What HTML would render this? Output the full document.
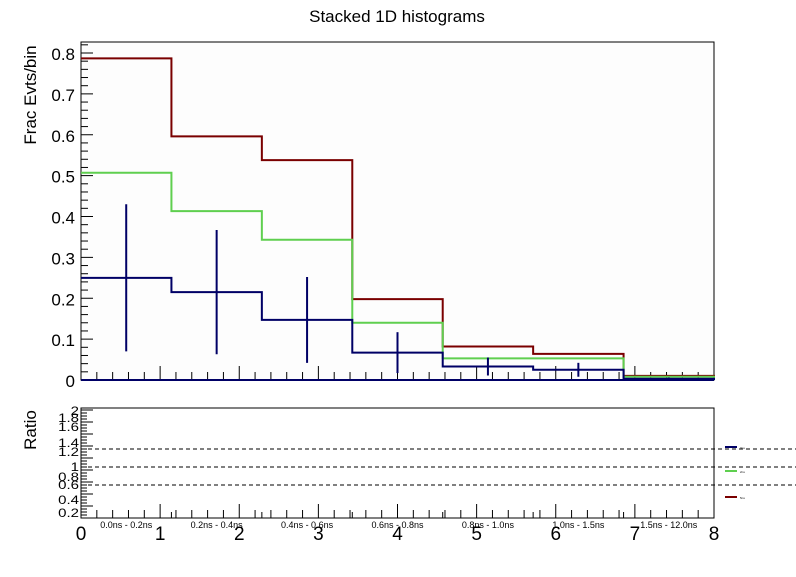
<!DOCTYPE html>
<html><head><meta charset="utf-8"><style>
body{margin:0;background:#fff;}
svg text{font-family:"Liberation Sans",sans-serif;}
</style></head><body>
<svg id="c" width="796" height="572" viewBox="0 0 796 572" xmlns="http://www.w3.org/2000/svg">
<rect width="796" height="572" fill="#fff"/>
<text x="397" y="22" font-size="17" text-anchor="middle">Stacked 1D histograms</text>
<text transform="translate(36,95) rotate(-90)" font-size="17" text-anchor="middle">Frac Evts/bin</text>
<text transform="translate(36,430) rotate(-90)" font-size="17" text-anchor="middle">Ratio</text>
<rect x="81" y="42" width="633" height="338" fill="#fdfdfd" stroke="#000" stroke-width="1"/>
<rect x="81" y="408" width="633" height="110" fill="none" stroke="#000" stroke-width="1"/>
<g id="g"></g>
</svg>
<script>
const binLabels=["0.0ns - 0.2ns","0.2ns - 0.4ns","0.4ns - 0.6ns","0.6ns - 0.8ns","0.8ns - 1.0ns","1.0ns - 1.5ns","1.5ns - 12.0ns"];
const redVals=[0.787,0.596,0.538,0.198,0.082,0.064,0.010];
const greenVals=[0.507,0.413,0.343,0.140,0.053,0.053,0.008];
const blueVals=[0.250,0.215,0.147,0.067,0.033,0.025,0.003];
const blueErr=[0.180,0.152,0.105,0.050,0.022,0.017,0.003];
const yTicks=[0,0.1,0.2,0.3,0.4,0.5,0.6,0.7,0.8];
const xTicks=[0,1,2,3,4,5,6,7,8];
const legendNames=["0ns","2ns","5ns"];

const NS="http://www.w3.org/2000/svg";
const g=document.getElementById('g');
const X0=81,X1=714,Y0=380,YTOP=53;
const xs=v=>X0+(X1-X0)*v/8;
const xb=i=>X0+(X1-X0)*i/binLabels.length;
const ys=v=>Y0-(Y0-YTOP)*v/0.8;
function mk(t,a){const e=document.createElementNS(NS,t);for(const k in a)e.setAttribute(k,a[k]);g.appendChild(e);return e;}
function line(x1,y1,x2,y2,c,w,name){const e=mk('line',{x1,y1,x2,y2,stroke:c,'stroke-width':w||1});

return e;}
function txt(x,y,s,fs,anchor,name){const e=mk('text',{x,y,'font-size':fs,'text-anchor':anchor||'middle'});e.textContent=s;

return e;}

yTicks.forEach(v=>{line(X0,ys(v),X0+12,ys(v),'#000',1,'y-major-tick');txt(X0-6,ys(v)+7,String(v),17,'end','y-tick-label');});
for(let i=0;i<=41;i++){const v=i*0.02;const y=ys(v);if(y<42)break;if(i%5)line(X0,y,X0+7,y,'#000',1,'y-minor-tick');}
xTicks.forEach(v=>{line(xs(v),Y0,xs(v),Y0-14,'#000',1,'x-major-tick');line(xs(v),518,xs(v),504,'#000',1,'ratio-x-major-tick');
txt(xs(v),540,String(v),19,'middle','x-tick-label');});
for(let i=0;i<40;i++){if(i%5){const x=xs(i/5);line(x,Y0,x,Y0-8,'#000',1,'x-minor-tick');line(x,518,x,510,'#000',1,'ratio-x-minor-tick');}}
for(let i=1;i<binLabels.length;i++)line(xb(i),518,xb(i),512,'#000',1,'ratio-bin-tick');

function hist(vals,color,name){let d='M'+X0+','+ys(vals[0]);vals.forEach((v,i)=>{d+='L'+xb(i)+','+ys(v)+'L'+xb(i+1)+','+ys(v);});
d+='L'+xb(vals.length)+','+Y0;const p=mk('path',{d:d,fill:'none',stroke:color,'stroke-width':2});

}
hist(redVals,'#7a0000','hist-5ns');
hist(greenVals,'#5fcf4f','hist-2ns');
hist(blueVals,'#000066','hist-0ns');
line(X0,Y0,X1,Y0,'#000066',2,'baseline');
blueVals.forEach((v,i)=>{const cx=(xb(i)+xb(i+1))/2;line(cx,ys(Math.min(v+blueErr[i],0.83)),cx,ys(Math.max(v-blueErr[i],0)),'#000066',2,'error-bar');});

for(let i=0;i<=36;i++){const y=410+i*3;line(X0,y,X0+(i%4?6:12),y,'#000',1,'ratio-y-tick');}
const rl=[["2",415],["1.8",422],["1.6",431],["1.4",447],["1.2",456],["1",471],["0.8",481],["0.6",489],["0.4",504],["0.2",517]];
rl.forEach(r=>{const t=txt(X0-2,r[1],r[0],15,'end','ratio-tick-label');t.setAttribute('transform','translate(0,'+(r[1]*0.2)+') scale(1,0.8)');t.setAttribute('y',r[1]);});
[449,467,485].forEach(y=>{const e=line(X0,y,796,y,'#000',1,'ratio-reference-line');e.setAttribute('stroke-dasharray','4,3');});
binLabels.forEach((s,i)=>txt((xb(i)+xb(i+1))/2,528,s,9,'middle','bin-label'));
[['#000066',447],['#5fcf4f',471],['#7a0000',497]].forEach((l,i)=>{line(725,l[1],737,l[1],l[0],2,'legend-entry');txt(740,l[1]+2,legendNames[i],3,'start','legend-label');});
</script>
</body></html>
